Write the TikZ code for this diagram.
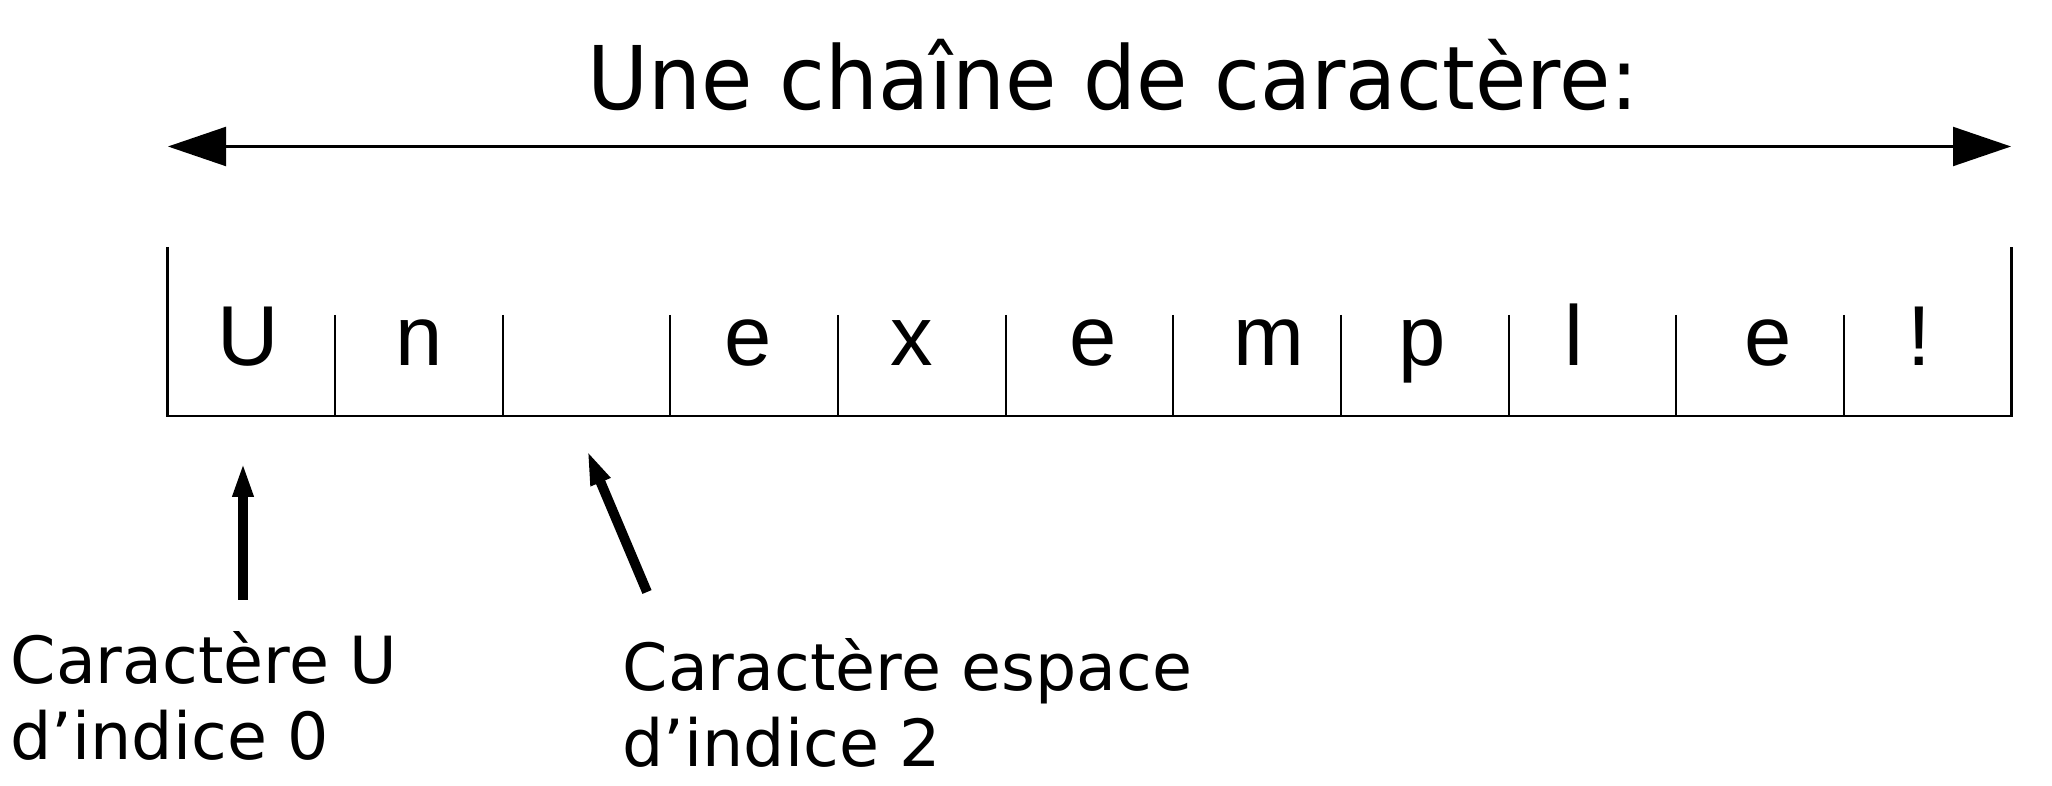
\documentclass[tikz,border=0pt]{standalone}
\usepackage{fontspec}
\setmainfont{DejaVu Sans}
\newfontfamily\titrefont{DejaVu Sans}[FakeStretch=0.95]
\newfontfamily\casefont{Liberation Sans}
\usepackage{xcolor}
\usepackage{tikz}
\usetikzlibrary{arrows.meta,positioning,calc}

\tikzset{
  trait/.style={line width=0.6pt},
  lettre/.style={anchor=base,inner sep=0pt,font=\casefont\fontsize{24.2}{28}\selectfont},
  legende/.style={anchor=base west,inner sep=0pt,align=left,
    font=\fontsize{18.5}{21.9}\selectfont},
  fleche/.style={line width=2.8pt,-{Triangle[length=3.5mm,width=1.9mm]}}
}

\begin{document}
\begin{tikzpicture}
    \useasboundingbox (0,0) rectangle (20.52,-7.86);
    % titre
    \node[anchor=base,inner sep=0pt,font=\titrefont\fontsize{25}{30}\selectfont] (titre) at (11.13,-1.10) {Une chaîne de caractère:};
    % double fleche
    \coordinate (gauche) at (1.68,-1.465);
    \coordinate (droite) at (20.11,-1.465);
    \draw[trait,{Triangle[length=5.8mm,width=3.9mm]}-{Triangle[length=5.8mm,width=3.9mm]}] (gauche) -- (droite);
    % cases
    \draw[trait] (1.675,-2.47) -- (1.675,-4.16) -- (20.115,-4.16) -- (20.115,-2.47);
    \foreach \i in {1,...,10}
      \draw[trait] ({1.675+1.6764*\i},-3.15) -- ({1.675+1.6764*\i},-4.16);
    % lettres
    \foreach \ch/\dx [count=\i from 0] in {U/-0.03,n/0,{}/0,e/-0.06,x/-0.10,e/0.04,m/0.12,p/-0.03,l/-0.19,e/0.08,!/-0.08}
      \node[lettre] (c\i) at ({1.675+1.6764*(\i+0.5)+\dx},-3.66) {\ch};
    % legendes
    \node[legende] (lblU) at (0.10,-7.60) {Caractère U\\d’indice 0};
    \node[legende] (lblEsp) at (6.22,-7.67) {Caractère espace\\d’indice 2};
    % fleches
    \coordinate (queueU) at (2.43,-6.00);
    \coordinate (pointeU) at (2.43,-4.62);
    \draw[fleche] (queueU) -- (pointeU);
    \coordinate (queueEsp) at (6.47,-5.92);
    \coordinate (pointeEsp) at (5.87,-4.50);
    \draw[fleche] (queueEsp) -- (pointeEsp);
  \end{tikzpicture}
\end{document}
